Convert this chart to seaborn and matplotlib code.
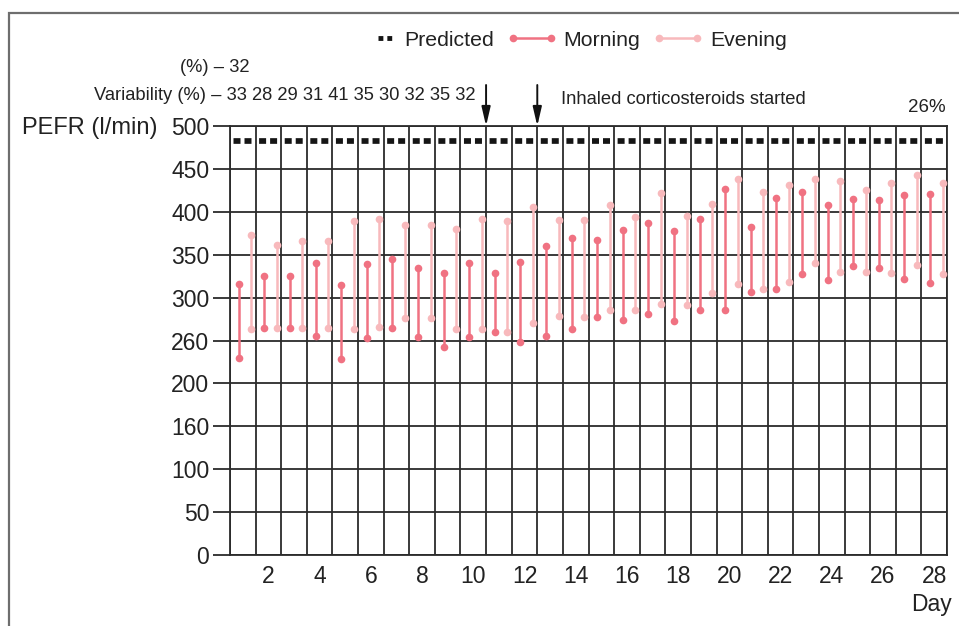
import numpy as np
import pandas as pd
import matplotlib
matplotlib.use("Agg")
import matplotlib.pyplot as plt
from matplotlib.lines import Line2D
from matplotlib.legend_handler import HandlerLine2D
from matplotlib.patches import Rectangle
import seaborn as sns

# ---------------- data ----------------
days = list(range(1, 29))
morning_high = [316, 325, 325, 340, 315, 339, 345, 334, 329, 340, 329, 342, 360, 369,
                367, 379, 387, 378, 392, 427, 382, 416, 423, 408, 415, 414, 420, 421]
morning_low = [230, 265, 265, 255, 229, 253, 265, 254, 243, 254, 260, 248, 255, 263,
               277, 274, 281, 273, 286, 285, 307, 310, 328, 320, 337, 335, 322, 317]
evening_high = [373, 361, 366, 366, 389, 392, 385, 385, 380, 392, 389, 406, 391, 391,
                408, 394, 422, 395, 409, 438, 423, 431, 438, 436, 425, 434, 443, 433]
evening_low = [263, 265, 265, 265, 263, 266, 276, 276, 263, 263, 260, 270, 278, 277,
               286, 285, 293, 291, 305, 316, 310, 318, 340, 330, 330, 329, 338, 328]
predicted = 482
y_ticks = [0, 50, 100, 150, 200, 250, 300, 350, 400, 450, 500]
y_tick_labels = ["0", "50", "100", "160", "200", "260", "300", "350", "400", "450", "500"]
x_tick_days = [2, 4, 6, 8, 10, 12, 14, 16, 18, 20, 22, 24, 26, 28]
variability_line1 = "(%) \u2013 32"
variability_line2 = "Variability (%) \u2013 33 28 29 31 41 35 30 32 35 32"
arrow_days = [10, 12]   # day boundaries the arrows point at
final_variability = "26%"

MORNING = "#f07282"
EVENING = "#f8b9bc"
GRID = "#2b2b2b"

# long table: one vertical segment per day and session
rows = []
for i, d in enumerate(days):
    for session, hi, lo, off in (("Morning", morning_high[i], morning_low[i], 0.34),
                                 ("Evening", evening_high[i], evening_low[i], 0.83)):
        x = d - 1 + off
        seg = f"{session}-{d}"
        rows.append(dict(x=x, value=hi, session=session, seg=seg))
        rows.append(dict(x=x, value=lo, session=session, seg=seg))
df = pd.DataFrame(rows)

# ---------------- figure ----------------
sns.set_theme(style="white")
plt.rcParams["font.family"] = ["Liberation Sans", "DejaVu Sans"]
W, H = 959, 626
fig = plt.figure(figsize=(W / 100, H / 100), dpi=100)
ax_l, ax_r, ax_t, ax_b = 230, 947, 126, 555
ax = fig.add_axes([ax_l / W, 1 - ax_b / H, (ax_r - ax_l) / W, (ax_b - ax_t) / H])

# frame around the figure (top and left visible)
fig.patches.append(Rectangle((9 / W, -0.1), 1.2, 1 - 13 / H + 0.1, transform=fig.transFigure,
                             fill=False, edgecolor="#6e6e6e", lw=1.6, zorder=0))

sns.lineplot(data=df, x="x", y="value", hue="session", units="seg", estimator=None,
             sort=False, palette={"Morning": MORNING, "Evening": EVENING},
             marker="o", markersize=5.5, markeredgewidth=0, linewidth=1.8,
             legend=False, ax=ax, zorder=3)

# predicted line: two square dashes in every day cell
px = 72 / 100                      # points per pixel
cell_px = (ax_r - ax_l) / 28
lw_pred = 4.1
on1, gap1, on2 = 7 * px, 4 * px, 7 * px
gap2 = cell_px * px - on1 - gap1 - on2
offset = (cell_px - 3.5) * px
ax.plot([0, 28], [predicted, predicted], color="#151515", lw=lw_pred, zorder=4,
        linestyle=(offset / lw_pred, (on1 / lw_pred, gap1 / lw_pred, on2 / lw_pred, gap2 / lw_pred)))

ax.set_xlim(0, 28)
ax.set_ylim(0, 500)
ax.set_yticks(y_ticks)
ax.set_yticklabels(y_tick_labels)
ax.set_xticks([d - 0.5 for d in x_tick_days])
ax.set_xticklabels([str(d) for d in x_tick_days])
ax.set_xticks(np.arange(0, 29), minor=True)
ax.tick_params(axis="x", which="both", length=0, labelsize=16.5, pad=7, colors="#222222")
ax.tick_params(axis="y", which="major", length=12, width=1.3, color=GRID, labelsize=16.5,
               pad=3, labelcolor="#222222", left=True)
ax.grid(True, axis="y", which="major", color=GRID, lw=1.3)
ax.grid(True, axis="x", which="minor", color=GRID, lw=1.3)
ax.grid(False, axis="x", which="major")
ax.set_xlabel("")
ax.set_ylabel("")
for s in ax.spines.values():
    s.set_color(GRID)
    s.set_linewidth(1.3)

# annotations
fig.text(22 / W, 1 - 128 / H, "PEFR (l/min)", ha="left", va="center", fontsize=17, color="#222222")
fig.text(250 / W, 1 - 67 / H, variability_line1, ha="right", va="center", fontsize=13.2, color="#222222")
fig.text(476 / W, 1 - 95 / H, variability_line2, ha="right", va="center", fontsize=13.2, color="#222222")
fig.text(561 / W, 1 - 100 / H, "Inhaled corticosteroids started", ha="left", va="center",
         fontsize=13.2, color="#222222")
fig.text(946 / W, 1 - 108 / H, final_variability, ha="right", va="center", fontsize=13.5, color="#222222")
fig.text(952 / W, 1 - 605 / H, "Day", ha="right", va="center", fontsize=16.5, color="#222222")

for d in arrow_days:
    ax.annotate("", xy=(d, 500), xycoords="data",
                xytext=(d, 500 + 41 / 0.858), textcoords="data",
                arrowprops=dict(arrowstyle="-|>,head_length=0.95,head_width=0.22",
                                color="#111111", lw=1.4, shrinkA=0, shrinkB=0),
                annotation_clip=False)


class ShortHandler(HandlerLine2D):
    """Draws the handle as a short stub at the right end of the handle box."""

    def get_xdata(self, legend, xdescent, ydescent, width, height, fontsize):
        x1 = -xdescent + width - 0.3 * fontsize
        new = np.array([x1 - 0.66 * fontsize, x1])
        return new, new


pred_handle = Line2D([], [], color="#151515", lw=3.5, linestyle=(0, (1.0, 0.82)))
m_handle = Line2D([], [], color=MORNING, lw=1.8, marker="o", markersize=5.5, markeredgewidth=0)
e_handle = Line2D([], [], color=EVENING, lw=1.8, marker="o", markersize=5.5, markeredgewidth=0)
fig.legend([pred_handle, m_handle, e_handle], ["Predicted", "Morning", "Evening"],
           loc="center left", bbox_to_anchor=(328 / W, 1 - 40 / H), ncol=3, frameon=False,
           fontsize=15.3, handlelength=2.4, handletextpad=0.31, columnspacing=0.55,
           numpoints=2, handler_map={pred_handle: ShortHandler()},
           labelcolor="#222222")

fig.savefig("out.png", dpi=100)
